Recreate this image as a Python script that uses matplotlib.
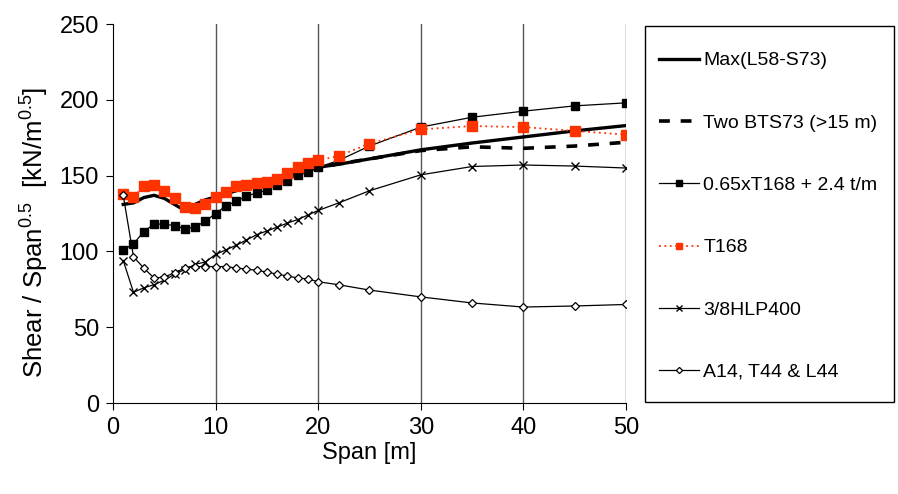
import numpy as np
import matplotlib.pyplot as plt
from matplotlib.patches import Rectangle

plt.rcParams['font.family'] = ['Liberation Sans', 'DejaVu Sans']
plt.rcParams['mathtext.default'] = 'regular'

# spans [m]
span = [1, 2, 3, 4, 5, 6, 7, 8, 9, 10, 11, 12, 13, 14, 15, 16, 17, 18, 19, 20,
        22, 25, 30, 35, 40, 45, 50]

max_l58_s73 = [131, 132, 135.5, 137, 135, 131, 127, 131, 134, 136, 138, 140, 142,
               144, 145.5, 147.5, 149.5, 151.5, 153.5, 155.5, 157.5, 161, 167,
               171.5, 175.5, 179.5, 183]

bts_span = [15, 20, 25, 30, 35, 40, 45, 50]
two_bts73 = [145.5, 155.5, 161, 166.5, 169, 168, 169.5, 172]

t168_mod = [101, 105, 113, 118, 118, 117, 115, 116, 120, 125, 130, 133, 136.5,
            138.5, 140.5, 144, 146.5, 150.5, 152.5, 155.5, 160, 169.5, 182,
            188.5, 192.5, 196, 198]

t168 = [138, 136, 143, 144, 140, 135, 129.5, 128.5, 131, 136, 139.5, 143, 144,
        145, 146, 148, 152, 156, 158, 160, 163, 171, 180.5, 182.7, 182, 179.5, 177]

hlp400 = [94, 73, 76, 78, 81, 85, 88, 91.5, 93, 98, 101, 104, 107.5, 111, 113.5,
          116, 118.7, 121, 124, 127, 132, 140, 150.5, 156, 157, 156.3, 155]

a14 = [137, 96.5, 89, 82.5, 83, 86, 89, 90, 90, 90, 90, 89, 88.4, 87.5, 86.4,
       85, 83.8, 82.5, 81.8, 80, 78, 74.5, 70, 66, 63.3, 64, 65]

fig = plt.figure(figsize=(8.98, 4.94), dpi=100)
ax = fig.add_axes([0.1258, 0.1842, 0.5713, 0.7672])

for xv in [10, 20, 30, 40, 50]:
    ax.axvline(xv, color='#555555', lw=1, zorder=0)

ax.plot(span, max_l58_s73, color='black', lw=2.4, label='Max(L58-S73)')
ax.plot(bts_span, two_bts73, color='black', lw=2.6, linestyle=(0, (3, 3)),
        label='Two BTS73 (>15 m)')
ax.plot(span, t168_mod, color='black', lw=0.9, marker='s', markersize=5.5,
        label='0.65xT168 + 2.4 t/m')
ax.plot(span, t168, color='#FF3300', lw=1.3, linestyle=(0, (1, 2)), marker='s',
        markersize=6.5, markeredgecolor='#FF3300', label='T168')
ax.plot(span, hlp400, color='black', lw=0.9, marker='x', markersize=5.5,
        markeredgewidth=1, label='3/8HLP400')
ax.plot(span, a14, color='black', lw=0.9, marker='D', markersize=4.5,
        markerfacecolor='white', markeredgewidth=0.9, label='A14, T44 & L44')

ax.set_xlim(0, 50)
ax.set_ylim(0, 250)
ax.set_xticks(np.arange(0, 51, 10))
ax.set_yticks(np.arange(0, 251, 50))
ax.spines['top'].set_visible(False)
ax.spines['right'].set_visible(False)
ax.tick_params(direction='out', length=5, labelsize=17, pad=5)
ax.set_xlabel('Span [m]', fontsize=17, labelpad=2)
ax.set_ylabel('Shear / Span$^{0.5}$  [kN/m$^{0.5}$]', fontsize=18.5)
ax.yaxis.set_label_coords(-0.121, 0.45)

# legend box on the right
fig.patches.append(Rectangle((645 / 898, 1 - 402 / 494), 249 / 898, 376 / 494,
                             transform=fig.transFigure, fill=False,
                             edgecolor='black', lw=1))
handles, labels = ax.get_legend_handles_labels()
fig.legend(handles, labels, loc='upper left',
           bbox_to_anchor=(649 / 898, 1 - 42 / 494), frameon=False,
           fontsize=14, handlelength=2.05, handletextpad=0.25,
           labelspacing=2.3, borderpad=0, markerscale=0.7)

fig.savefig('out.png', dpi=100)
